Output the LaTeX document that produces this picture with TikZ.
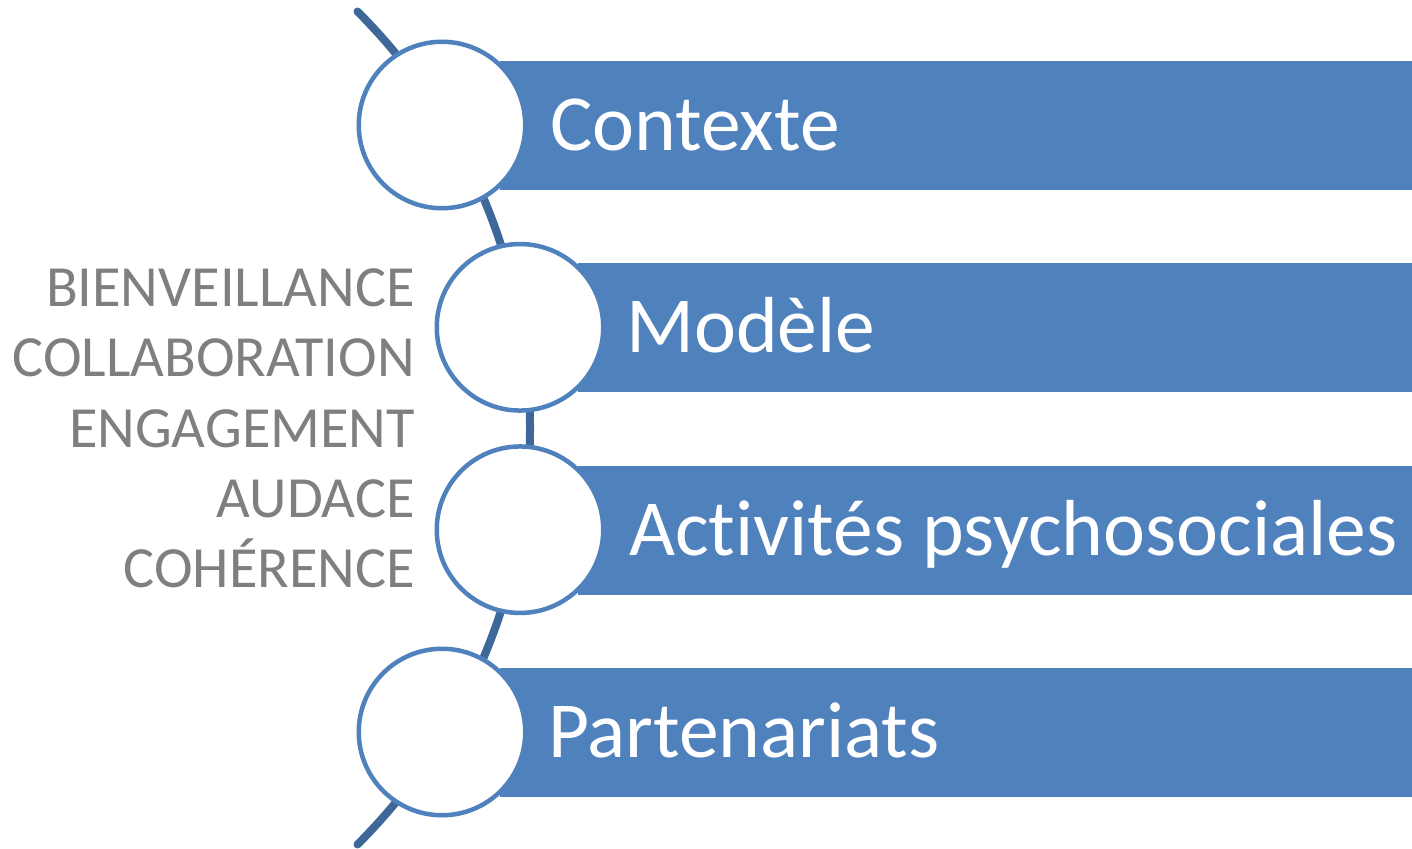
\documentclass[tikz,border=0pt]{standalone}
\usepackage{fontspec}
\setmainfont{Carlito}[Ligatures={NoCommon}]
\definecolor{barblue}{HTML}{4F81BD}
\definecolor{arcblue}{HTML}{3D6899}
\definecolor{txtgray}{HTML}{7F7F7F}
\begin{document}
\begin{tikzpicture}[x=1pt,y=-1pt,
  bar/.style={fill=barblue},
  ring/.style={circle,draw=barblue,line width=4.5pt,fill=white,minimum size=166.5pt,inner sep=0pt},
  lbl/.style={anchor=base west,text=white,font=\fontsize{79.5}{90}\selectfont,inner sep=0pt},
  value/.style={anchor=base east,text=txtgray,font=\fontsize{58.3}{68}\selectfont,inner sep=0pt},
  spine/.style={draw=arcblue,line width=8pt,line cap=round}]
\useasboundingbox (0,0) rectangle (1412,848);
% spine arc
\coordinate (top) at (357.5,11.5);
\draw[spine] (top) arc[start angle=-45,end angle=45,radius=589];
% bars
\fill[bar] (500,61) rectangle (1412,189.5);
\fill[bar] (578,263) rectangle (1412,392);
\fill[bar] (578,465.5) rectangle (1412,594.5);
\fill[bar] (500,667.5) rectangle (1412,797);
% circles
\node[ring] (c1) at (442,125) {};
\node[ring] (c2) at (520,327.3) {};
\node[ring] (c3) at (520,529.7) {};
\node[ring] (c4) at (442,732) {};
% labels
\node[lbl] (l1) at (550,150) {Contexte};
\node[lbl] (l2) at (626,352.5) {Modèle};
\node[lbl] (l3) at (629,555) {Activités psychosociales};
\node[lbl] (l4) at (548,757) {Partenariats};
% values
\node[value] (v1) at (415,306) {BIENVEILLANCE};
\node[value] (v2) at (415,376.5) {COLLABORATION};
\node[value] (v3) at (415,447) {ENGAGEMENT};
\node[value] (v4) at (415,517) {AUDACE};
\node[value] (v5) at (415,587) {COHÉRENCE};
\end{tikzpicture}
\end{document}
